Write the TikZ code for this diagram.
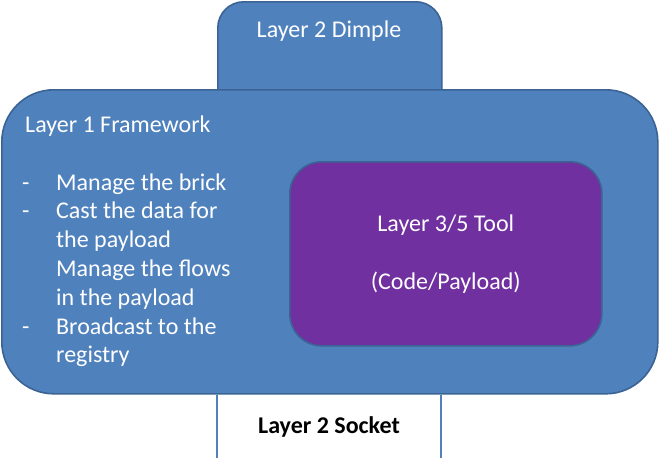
\documentclass[tikz,border=0pt]{standalone}
\usepackage{fontspec}
\setmainfont{Carlito}
\definecolor{boxfill}{HTML}{4F81BD}
\definecolor{boxline}{HTML}{3B6394}
\definecolor{toolfill}{HTML}{7030A0}
\begin{document}
\begin{tikzpicture}[x=1pt,y=-1pt,
  shell/.style={draw=boxline, line width=1.6pt, fill=boxfill, inner sep=0pt, anchor=north west},
  tool/.style={draw=boxline, line width=1.6pt, fill=toolfill, inner sep=0pt, anchor=north west},
  wtext/.style={text=white, inner sep=0pt, font=\fontsize{24}{28.8}\selectfont},
  socketline/.style={draw=boxfill, line width=2pt}]
\useasboundingbox (0,0) rectangle (659,458);
\node[shell, rounded corners=26pt, minimum width=224pt, minimum height=150pt] (dimple) at (217,1) {};
\node[shell, rounded corners=52pt, minimum width=656pt, minimum height=304pt] (main) at (1,89) {};
\node[tool, rounded corners=32pt, minimum width=312pt, minimum height=184pt] (toolbox) at (289,161) {};
\node[wtext, anchor=base] (dimpletext) at (329,37) {Layer 2 Dimple};
\node[wtext, anchor=base west] (title) at (25,132) {Layer 1 Framework};
\node[wtext, anchor=base west] (list) at (22,190) {\begin{tabular}[t]{@{}p{34pt}@{}l@{}}
- & Manage the brick\\
- & Cast the data for\\
  & the payload\\
  & Manage the flows\\
  & in the payload\\
- & Broadcast to the\\
  & registry
\end{tabular}};
\node[wtext, align=center] (tooltext) at (toolbox.center) {Layer 3/5 Tool\\[28.8pt](Code/Payload)};
\coordinate (sockL) at (217,458);
\coordinate (sockR) at (441,458);
\draw[socketline] (main.south -| sockL) -- (sockL);
\draw[socketline] (main.south -| sockR) -- (sockR);
\node[inner sep=0pt, anchor=base, font=\fontsize{24}{28.8}\selectfont\bfseries] (socket) at (329,433) {Layer 2 Socket};
\end{tikzpicture}
\end{document}
